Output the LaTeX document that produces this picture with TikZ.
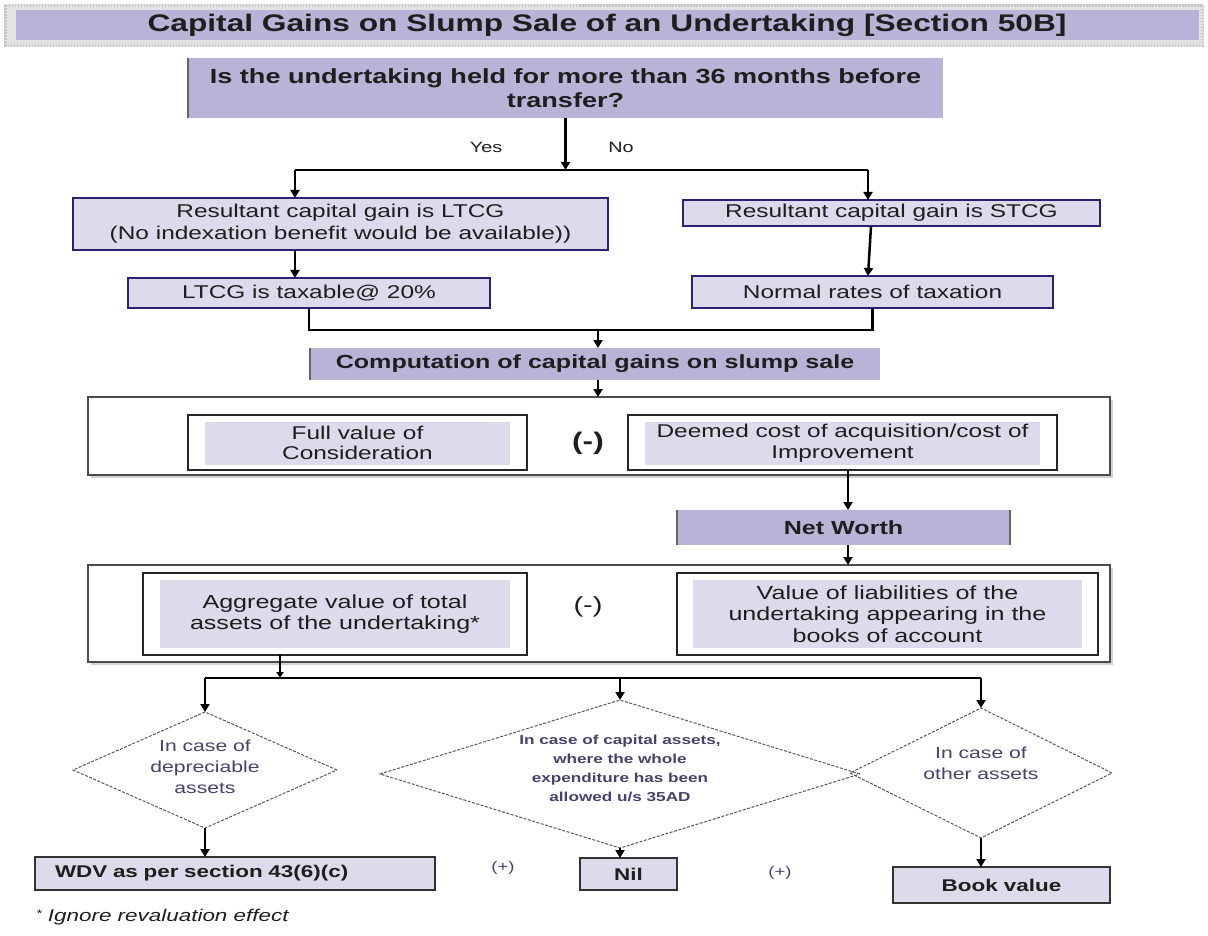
\documentclass[tikz,border=0pt]{standalone}
\usepackage{fontspec}
\setmainfont{Liberation Sans}[FakeStretch=1.32]
\usetikzlibrary{shapes.geometric,arrows.meta}
\definecolor{purp}{HTML}{B9B3D7}
\definecolor{lav}{HTML}{DDDAEC}
\definecolor{navy}{HTML}{2C2075}
\definecolor{dtext}{HTML}{4B4068}
\definecolor{txt}{HTML}{1E1E1E}
\begin{document}
\begin{tikzpicture}[x=1pt,y=-1pt,
  every node/.style={inner sep=0pt,outer sep=0pt,text=txt},
  pbox/.style={rectangle,fill=purp},
  tbox/.style={rectangle,fill=lav,draw=navy,line width=2pt},
  obox/.style={rectangle,fill=white,draw=black!85,line width=1.3pt},
  ibox/.style={rectangle,fill=lav},
  frame/.style={rectangle,fill=white,draw=black!70,line width=1.5pt},
  dia/.style={diamond,draw=black!65,line width=1pt,dash pattern=on 3pt off 1.5pt},
  dtxt/.style={align=center,text=dtext,font=\fontsize{16}{21}\selectfont},
  arr/.style={-{Triangle[length=8pt,width=9pt]},line width=2.5pt,draw=black},
  ln/.style={line width=2.5pt,draw=black},
  reg/.style={align=center,font=\fontsize{18.5}{22}\selectfont},
  edge/.style={line width=1.6pt,draw=black!60}
]
\useasboundingbox (0,0) rectangle (1208,936);

% title
\fill[gray!22] (4,4) rectangle (1204,47);
\draw[gray!45,line width=3pt,dash pattern=on 1.5pt off 1.5pt] (5.5,5.5) rectangle (1202.5,45.5);
\node[pbox,minimum width=1183,minimum height=30,font=\bfseries\fontsize{24}{28}\selectfont] (title) at (607,25) {Capital Gains on Slump Sale of an Undertaking [Section 50B]};

% question
\node[pbox,minimum width=755,minimum height=60,align=center,font=\bfseries\fontsize{20.5}{24}\selectfont] (q) at (565.5,88) {Is the undertaking held for more than 36 months before\\transfer?};
\draw[edge] (q.north west) -- (q.south west);

\coordinate (yb) at (0,170);
\coordinate (bl) at (295,170);
\coordinate (br) at (868,170);
\node[font=\fontsize{15}{18}\selectfont] (yes) at (486,147) {Yes};
\node[font=\fontsize{15}{18}\selectfont] (no) at (621,147) {No};

% LTCG / STCG
\node[tbox,minimum width=535,minimum height=52,reg] (lt) at (340.5,224) {Resultant capital gain is LTCG\\(No indexation benefit would be available))};
\node[tbox,minimum width=417,minimum height=26,reg] (st) at (891.5,213) {Resultant capital gain is STCG};
\node[tbox,minimum width=362,minimum height=30,reg] (tx) at (309,293) {LTCG is taxable@ 20\%};
\node[tbox,minimum width=361,minimum height=32,reg] (nr) at (872.5,292) {Normal rates of taxation};

\draw[arr] (q.south |- q.south) -- (q.south |- yb);
\draw[ln] (bl) -- (br);
\draw[arr] (bl) -- (bl |- lt.north);
\draw[arr] (br) -- (br |- st.north);
\draw[arr] (bl |- lt.south) -- (bl |- tx.north);
\draw[arr] ([xshift=-20.5]st.south) -- ([xshift=-4.5]nr.north);

% join
\coordinate (jy) at (0,330);
\node[pbox,minimum width=570,minimum height=32,font=\bfseries\fontsize{19}{22}\selectfont] (comp) at (595,364) {Computation of capital gains on slump sale};
\draw[edge] (comp.north west) -- (comp.south west);
\draw[ln] (tx.south) -- (tx.south |- jy) -- (nr.south |- jy) -- (nr.south);
\draw[arr] ([xshift=3]comp.north |- jy) -- ([xshift=3]comp.north);

% first frame
\fill[gray!35] (91,400) rectangle (1113,478);
\node[frame,minimum width=1022,minimum height=78] (f1) at (599,436) {};
\draw[arr] ([xshift=3]comp.south) -- ([xshift=3]comp.south |- f1.north);
\node[obox,minimum width=339,minimum height=55] (fvo) at (357.5,442.5) {};
\node[ibox,minimum width=305,minimum height=43,reg,font=\fontsize{18.5}{20.5}\selectfont] (fv) at (357.5,443) {Full value of\\Consideration};
\node[font=\bfseries\fontsize{24}{28}\selectfont] (m1) at (588,443) {(-)};
\node[obox,minimum width=429,minimum height=55] (dmo) at (842.5,442.5) {};
\node[ibox,minimum width=395,minimum height=43,reg,font=\fontsize{18.5}{20.5}\selectfont] (dm) at (842.5,443) {Deemed cost of acquisition/cost of\\Improvement};

% net worth
\node[pbox,minimum width=333,minimum height=35,font=\bfseries\fontsize{19}{22}\selectfont] (nw) at (843.5,527.5) {Net Worth};
\draw[edge] (nw.north west) -- (nw.south west);
\draw[edge] (nw.north east) -- (nw.south east);
\draw[arr] ([xshift=5.5]dmo.south) -- ([xshift=4.5]nw.north);

% second frame
\fill[gray!35] (91,568) rectangle (1113,665);
\node[frame,minimum width=1022,minimum height=97] (f2) at (599,613.5) {};
\draw[arr] ([xshift=4.5]nw.south) -- ([xshift=4.5]nw.south |- f2.north);
\node[obox,minimum width=384,minimum height=82] (ago) at (335,614) {};
\node[ibox,minimum width=350,minimum height=68,align=center,font=\fontsize{19}{21.5}\selectfont] (ag) at (335,614) {Aggregate value of total\\assets of the undertaking*};
\node[font=\fontsize{22}{26}\selectfont] (m2) at (588,607) {(-)};
\node[obox,minimum width=421,minimum height=82] (lio) at (887.5,614) {};
\node[ibox,minimum width=389,minimum height=68,align=center,font=\fontsize{19}{21.5}\selectfont] (li) at (887.5,614) {Value of liabilities of the\\undertaking appearing in the\\books of account};

% diamonds
\node[dia,minimum width=264,minimum height=116] (d1) at (205,770) {};
\node[dia,minimum width=480,minimum height=148] (d2) at (620,774) {};
\node[dia,minimum width=262,minimum height=130] (d3) at (981,773) {};
\node[dtxt] (d1t) at (205,767) {In case of\\depreciable\\assets};
\node[dtxt,font=\bfseries\fontsize{13}{19}\selectfont] (d2t) at (620,768) {In case of capital assets,\\where the whole\\expenditure has been\\allowed u/s 35AD};
\node[dtxt] (d3t) at (981,763) {In case of\\other assets};

\coordinate (bb) at (0,678);
\draw[ln,-{Triangle[length=6pt,width=7pt]}] ([xshift=-55]ago.south) -- ([xshift=-55]ago.south |- bb);
\draw[ln] (d1.north |- bb) -- (d3.north |- bb);
\draw[arr] (d1.north |- bb) -- (d1.north);
\draw[arr] (d2.north |- bb) -- (d2.north);
\draw[arr] (d3.north |- bb) -- (d3.north);

% results
\node[tbox,draw=black!80,minimum width=400,minimum height=33,text width=360,inner xsep=20pt,align=left,font=\bfseries\fontsize{17}{20}\selectfont] (wdv) at (235,873.5) {WDV as per section 43(6)(c)};
\node[tbox,draw=black!80,minimum width=97,minimum height=32,font=\bfseries\fontsize{17}{20}\selectfont] (nil) at (628.5,874) {Nil};
\node[tbox,draw=black!80,minimum width=217,minimum height=36,font=\bfseries\fontsize{17}{20}\selectfont] (bv) at (1001.5,885) {Book value};
\draw[arr] (d1.south) -- (d1.south |- wdv.north);
\draw[arr] (d2.south) -- (d2.south |- nil.north);
\draw[arr] (d3.south) -- (d3.south |- bv.north);
\node[font=\fontsize{14}{16}\selectfont,text=dtext] (p1) at (503,868) {(+)};
\node[font=\fontsize{14}{16}\selectfont,text=dtext] (p2) at (780,873) {(+)};

\node[anchor=west,font=\itshape\fontsize{17}{19}\selectfont] (fn) at (36,917) {\raisebox{4pt}{\fontsize{11}{12}\selectfont*} Ignore revaluation effect};
\end{tikzpicture}
\end{document}
